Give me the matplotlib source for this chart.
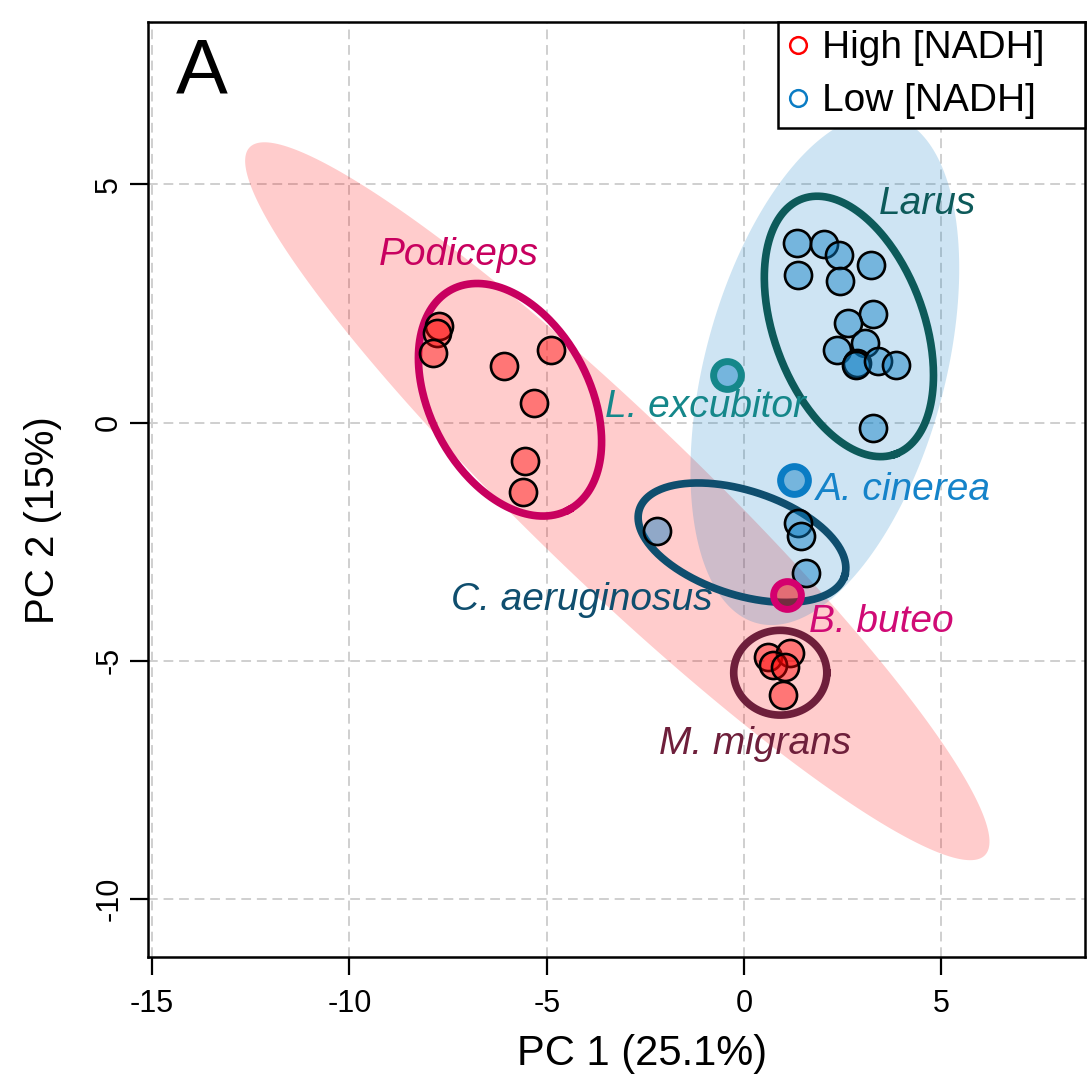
import numpy as np
import matplotlib.pyplot as plt
from matplotlib.lines import Line2D

plt.rcParams["font.family"] = ["Liberation Sans", "DejaVu Sans"]
plt.rcParams["axes.unicode_minus"] = False

# PCA scores
podiceps_x = [-7.73, -7.78, -7.88, -6.08, -4.89, -5.32, -5.55, -5.60]
podiceps_y = [2.02, 1.89, 1.47, 1.18, 1.53, 0.42, -0.80, -1.45]
migrans_x = [0.61, 1.17, 0.74, 1.04, 0.99]
migrans_y = [-4.92, -4.83, -5.08, -5.13, -5.71]
larus_x = [1.34, 2.03, 2.41, 3.22, 1.37, 2.43, 3.27, 2.64, 3.07, 2.36, 2.86, 2.84, 3.40, 3.85, 3.27]
larus_y = [3.78, 3.74, 3.51, 3.30, 3.11, 2.98, 2.29, 2.10, 1.68, 1.53, 1.26, 1.22, 1.30, 1.20, -0.11]
aerug_x = [-2.21, 1.37, 1.44, 1.57]
aerug_y = [-2.27, -2.10, -2.37, -3.15]

# single-specimen species: x, y, edge colour, fill group
single_names = ["L. excubitor", "A. cinerea", "B. buteo"]
single_x = [-0.43, 1.27, 1.09]
single_y = [1.01, -1.20, -3.61]
single_edge = ["#15878A", "#0A7CC4", "#D4006E"]
single_group = ["low", "low", "high"]

# species labels
label_text = ["Podiceps", "Larus", "L. excubitor", "A. cinerea", "C. aeruginosus", "B. buteo", "M. migrans"]
label_x = [-7.23, 4.65, -0.98, 4.03, -4.12, 3.47, 0.28]
label_y = [3.30, 4.37, 0.11, -1.62, -3.93, -4.39, -6.95]
label_col = ["#C8005F", "#0D5A5A", "#15878A", "#1583C9", "#0F4E6E", "#D00A75", "#6E1F3B"]

# ellipses: centre, major semi-axis vector, minor semi-axis vector (data units)
group_ell = {
    "high": ((-3.21, -1.65), (9.32, -7.43), (-1.46, -1.26)),
    "low": ((2.05, 1.11), (-1.72, -5.32), (-2.94, 0.65)),
}
species_ell = [
    ((-5.93, 0.48), (1.49, -2.31), (1.78, 0.79), "#C8005F"),
    ((2.66, 2.02), (1.18, -2.68), (-1.79, -0.54), "#0D5A5A"),
    ((-0.05, -2.52), (2.60, -0.70), (-0.41, -1.04), "#0F4E6E"),
    ((0.92, -5.25), (1.18, 0.0), (0.0, 0.89), "#6E1F3B"),
]

red = "#FF0000"
blue = "#0A7CC4"
red_pt = (1, 0, 0, 0.42)
blue_pt = (0.04, 0.49, 0.77, 0.45)


def ellipse_xy(c, a, b):
    t = np.linspace(0, 2 * np.pi, 300)
    x = c[0] + a[0] * np.cos(t) + b[0] * np.sin(t)
    y = c[1] + a[1] * np.cos(t) + b[1] * np.sin(t)
    return x, y


fig = plt.figure(figsize=(10.87, 10.79), dpi=100)
ax = fig.add_axes([0.136, 0.113, 0.862, 0.867])

# group fills
x, y = ellipse_xy(*group_ell["high"])
ax.fill(x, y, color=red, alpha=0.2, lw=0, zorder=1)
x, y = ellipse_xy(*group_ell["low"])
ax.fill(x, y, color=blue, alpha=0.2, lw=0, zorder=1)

# species outlines
for c, a, b, col in species_ell:
    x, y = ellipse_xy(c, a, b)
    ax.plot(x, y, color=col, lw=5.5, zorder=2)

# points
pt = dict(s=380, edgecolors="black", linewidths=1.9, zorder=3)
ax.scatter(podiceps_x, podiceps_y, c=[red_pt], **pt)
ax.scatter(migrans_x, migrans_y, c=[red_pt], **pt)
ax.scatter(larus_x, larus_y, c=[blue_pt], **pt)
ax.scatter(aerug_x, aerug_y, c=[blue_pt], **pt)
for i in range(len(single_x)):
    fc = red_pt if single_group[i] == "high" else blue_pt
    ax.scatter(single_x[i], single_y[i], s=400, c=[fc], edgecolors=single_edge[i],
               linewidths=5, zorder=4)

for t, lx, ly, col in zip(label_text, label_x, label_y, label_col):
    ax.text(lx, ly, t, color=col, fontsize=28, style="italic",
            ha="center", va="baseline", zorder=5)

ax.text(0.058, 0.945, "A", transform=ax.transAxes, fontsize=56, ha="center", va="center")

ax.set_xlim(-15.11, 8.64)
ax.set_ylim(-11.22, 8.42)
ax.set_xticks([-15, -10, -5, 0, 5])
ax.set_yticks([-10, -5, 0, 5])
ax.grid(True, color="#CFCFCF", linestyle=(0, (5, 3)), lw=1.4, zorder=0)
ax.set_axisbelow(True)
ax.tick_params(direction="out", length=13, width=1.6, labelsize=22)
ax.tick_params(axis="x", pad=10)
ax.tick_params(axis="y", pad=4)
for lab in ax.get_yticklabels():
    lab.set_rotation(90)
    lab.set_va("center")
for s in ax.spines.values():
    s.set_linewidth(1.8)

ax.set_xlabel("PC 1 (25.1%)", fontsize=30, labelpad=11)
ax.set_ylabel("PC 2 (15%)", fontsize=29, labelpad=23)
ax.xaxis.label.set_x(0.527)
ax.yaxis.label.set_y(0.467)

handles = [
    Line2D([], [], marker="o", ls="none", mfc="none", mec=red, mew=1.8, ms=12),
    Line2D([], [], marker="o", ls="none", mfc="none", mec=blue, mew=1.8, ms=12),
]
leg = ax.legend(handles, ["High [NADH]   ", "Low [NADH]   "], loc="upper right",
                fontsize=28, borderaxespad=0, fancybox=False, framealpha=1,
                edgecolor="black", handlelength=0.6, handletextpad=0.3,
                borderpad=0.22, labelspacing=0.44)
leg.get_frame().set_linewidth(1.8)
leg.set_zorder(6)

fig.savefig("out.png", dpi=100)
